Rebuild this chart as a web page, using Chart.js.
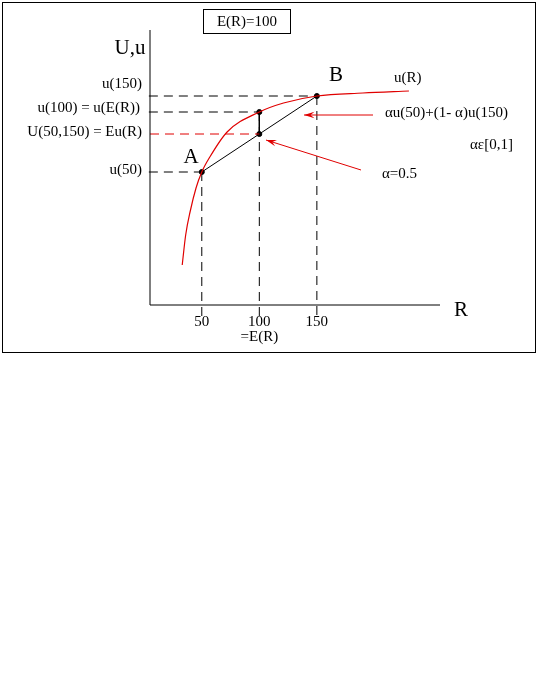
<!DOCTYPE html>
<html><head><meta charset="utf-8">
<script src="https://cdn.jsdelivr.net/npm/chart.js@4"></script>
<style>html,body{margin:0;padding:0;background:#fff}</style>
</head><body>
<canvas id="c" width="537" height="696" style="width:537px;height:696px;display:block"></canvas>
<script>
const curveR = [33,36,40,45,50,57,72,100,121,150,190,230];
const curveU = [40,70,94,117,133,148,173,193,202,209,212,214];
const ticksR = [50,100,150];
const tickLabels = ['50','100','150'];
const uA = 133, uMid = 193, uB = 209, uChordMid = 171;
const dash = [9,6];
const pts = (xs, ys) => xs.map((x,i)=>({x, y: ys[i]}));
const line = (data, color, d, w) => ({type:'scatter', data, showLine:true, borderColor:color, borderWidth:w||1, borderDash:d||[], pointRadius:0, fill:false, clip:false});
const datasets = [
  Object.assign(line(pts(curveR,curveU),'#e00000',[],1.2),{cubicInterpolationMode:'monotone'}),
  line([{x:5,y:0},{x:5,y:275}],'#000'),
  line([{x:5,y:0},{x:257,y:0}],'#000'),
  line([{x:4,y:uB},{x:150,y:uB}],'#000',dash),
  line([{x:4,y:uMid},{x:100,y:uMid}],'#000',dash),
  line([{x:5,y:uChordMid},{x:100,y:uChordMid}],'#e00000',dash),
  line([{x:4,y:uA},{x:50,y:uA}],'#000',dash),
  line([{x:50,y:uA},{x:50,y:-12}],'#000',dash),
  line([{x:100,y:uMid},{x:100,y:-12}],'#000',dash),
  line([{x:150,y:uB},{x:150,y:-12}],'#000',dash),
  line([{x:50,y:uA},{x:150,y:uB}],'#000'),
  line([{x:100,y:uMid},{x:100,y:uChordMid}],'#000'),
  {type:'scatter', data:[{x:50,y:uA},{x:100,y:uMid},{x:100,y:uChordMid},{x:150,y:uB}], pointRadius:2.5, backgroundColor:'#000', borderColor:'#000', clip:false}
];
const deco = {
  id:'deco',
  afterDraw(ch){
    const c = ch.ctx, xs = ch.scales.x, ys = ch.scales.y;
    const X = v=>xs.getPixelForValue(v), Y = v=>ys.getPixelForValue(v);
    c.save();
    c.strokeStyle='#000'; c.lineWidth=1;
    c.strokeRect(2.5,2.5,533,350);
    c.strokeRect(203.5,9.5,87,24);
    c.fillStyle='#000'; c.textBaseline='middle';
    const T=(s,x,y,size,al)=>{c.font=size+'px "Liberation Serif", "Times New Roman", serif';c.textAlign=al||'left';c.fillText(s,x,y);};
    T('E(R)=100',247,22,15,'center');
    T('U,u',130,48,21,'center');
    T('R',461,310,21,'center');
    T('B',336,75,21,'center');
    T('A',191,157,21,'center');
    T('u(R)',394,78,15,'left');
    T('u(150)',142,84,15,'right');
    T('u(100) = u(E(R))',140,108,15,'right');
    T('U(50,150) = Eu(R)',142,132,15,'right');
    T('u(50)',142,170,15,'right');
    tickLabels.forEach((s,i)=>T(s,X(ticksR[i]),Y(-17),15,'center'));
    T('=E(R)',X(100),Y(-32),15,'center');
    T('\u03b1u(50)+(1- \u03b1)u(150)',385,113,15,'left');
    T('\u03b1\u03b5[0,1]',470,145,15,'left');
    T('\u03b1=0.5',382,174,15,'left');
    const arrow=(x1,y1,x2,y2)=>{
      c.strokeStyle='#e00000'; c.fillStyle='#e00000'; c.lineWidth=1;
      c.beginPath(); c.moveTo(x1,y1); c.lineTo(x2,y2); c.stroke();
      const a=Math.atan2(y2-y1,x2-x1), L=11, w=0.3;
      c.beginPath(); c.moveTo(x2,y2);
      c.lineTo(x2-L*Math.cos(a-w),y2-L*Math.sin(a-w));
      c.lineTo(x2-L*0.6*Math.cos(a),y2-L*0.6*Math.sin(a));
      c.lineTo(x2-L*Math.cos(a+w),y2-L*Math.sin(a+w));
      c.closePath(); c.fill();
    };
    arrow(373,115,304,115);
    arrow(361,170,266,140);
    c.restore();
  }
};
new Chart(document.getElementById('c'),{
  type:'scatter',
  data:{datasets},
  options:{
    responsive:false, animation:false, devicePixelRatio:1,
    layout:{padding:{left:150,right:97,top:30,bottom:391}},
    plugins:{legend:{display:false},tooltip:{enabled:false}},
    scales:{
      x:{type:'linear',min:5,max:257,display:false},
      y:{type:'linear',min:0,max:275,display:false}
    }
  },
  plugins:[deco]
});
</script>
</body></html>
